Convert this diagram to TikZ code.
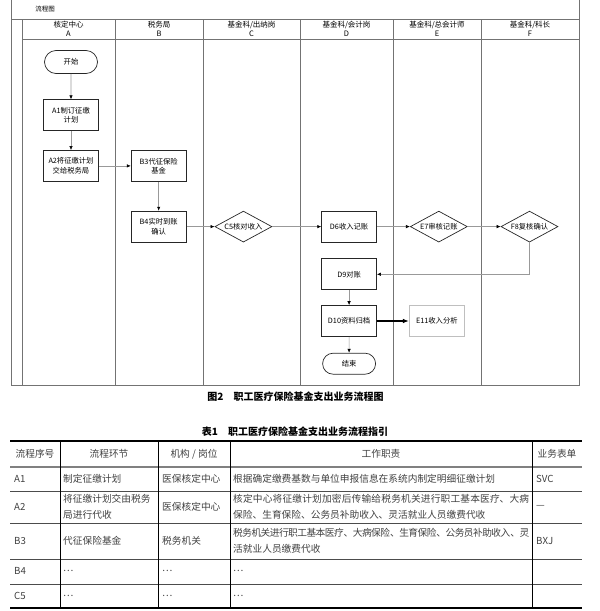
\documentclass[tikz,border=0pt]{standalone}
\usepackage{fontspec}
\setmainfont{Noto Sans CJK SC}
\XeTeXlinebreaklocale "zh"
\XeTeXlinebreakskip=0pt plus 2pt minus 0.6pt
\usepackage{tikz}
\tikzset{>=latex}
\usetikzlibrary{
    positioning, % relative placement of nodes
    arrows.meta, % arrow tips
    shapes.geometric, % diamonds
    shapes.misc % rounded rectangles for start/end
}

\begin{document}
\begin{tikzpicture}[
    x=1pt, y=-1pt,
    node distance=20pt and 30pt,
    frame/.style={
        draw=black!55,
        line width=0.8pt
    },
    lanehead/.style={
        align=center,
        inner sep=0pt,
        font=\fontsize{7.5}{9}\selectfont
    },
    terminal/.style={
        draw=black!85,
        rounded rectangle,
        minimum width=55pt,
        minimum height=23pt,
        inner sep=1pt,
        line width=0.7pt,
        font=\fontsize{7.3}{9}\selectfont
    },
    stepbox/.style={
        draw=black!85,
        align=center,
        minimum width=55pt,
        minimum height=31pt,
        inner sep=2pt,
        line width=0.7pt,
        font=\fontsize{7.3}{9.5}\selectfont
    },
    check/.style={
        draw=black!85,
        diamond,
        aspect=2,
        minimum width=57pt,
        minimum height=31pt,
        inner sep=0pt,
        line width=0.7pt,
        font=\fontsize{7.3}{9}\selectfont
    },
    arrow/.style={
        -{Latex[length=4pt,width=3.5pt,color=black]},
        draw=black!40,
        line width=0.6pt
    },
    boldarrow/.style={
        -{Latex[length=6pt,width=4.5pt]},
        draw=black,
        line width=1.1pt
    },
    caption/.style={
        inner sep=0pt,
        font=\bfseries\fontsize{10}{12}\selectfont
    },
    cell/.style={
        anchor=west,
        align=left,
        inner sep=0pt,
        text=black!75,
        font=\fontsize{9.7}{15.5}\selectfont
    },
    duty/.style={
        cell,
        text width=296pt,
        align=justify
    },
    headcell/.style={
        inner sep=0pt,
        text=black!75,
        font=\fontsize{9.7}{12}\selectfont
    }
]
\useasboundingbox (0,0) rectangle (600,611);

% Frame of the flow chart
\draw[frame] (11,0) -- (11,385) -- (579,385) -- (579,0);
\draw[frame] (11,19) -- (579,19);
\draw[frame] (22,19) -- (22,385);
\draw[frame] (22,39) -- (579,39);
\node[inner sep=0pt, font=\fontsize{6.5}{8}\selectfont] (title) at (45,9) {流程图};

% Lanes
\foreach \x in {115,203,300,393,481}
    \draw[frame] (\x,19) -- (\x,385);
\foreach \cx/\name/\id in {68.5/{核定中心}/A, 159/{税务局}/B, 251.5/{基金科/出纳岗}/C,
    346.5/{基金科/会计岗}/D, 437/{基金科/总会计师}/E, 530/{基金科/科长}/F}
    \node[lanehead] (lane\id) at (\cx,28.5) {\name\\\id};

% Steps
\node[terminal] (start) at (71,62) {开始};

\node[stepbox, below=25.5pt of start] (A1)
{A1制订征缴\\计划};

\node[stepbox, below=19pt of A1] (A2)
{A2将征缴计划\\交给税务局};

\node[stepbox, right=32pt of A2] (B3)
{B3代征保险\\基金};

\node[stepbox, below=29pt of B3] (B4)
{B4实时到账\\确认};

\node[check, right=28pt of B4] (C5)
{C5核对收入};

\node[stepbox, right=49pt of C5] (D6)
{D6收入记账};

\node[check, right=33pt of D6] (E7)
{E7审核记账};

\node[check, right=33pt of E7] (F8)
{F8复核确认};

\node[stepbox, below=16pt of D6] (D9)
{D9对账};

\node[stepbox, below=15pt of D9] (D10)
{D10资料归档};

\node[stepbox, draw=black!25, right=32pt of D10] (E11)
{E11收入分析};

\node[terminal, minimum height=21pt, below=16pt of D10] (end)
{结束};

% Connectors
\draw[arrow] (start) -- (A1);
\draw[arrow] (A1) -- (A2);
\draw[arrow] (A2) -- (B3);
\draw[arrow] (B3) -- (B4);
\draw[arrow] (B4) -- (C5);
\draw[arrow] (C5) -- (D6);
\draw[arrow] (D6) -- (E7);
\draw[arrow] (E7) -- (F8);
\draw[arrow] (F8.south) |- (D9.east);
\draw[arrow] (D9) -- (D10);
\draw[boldarrow] (D10) -- (E11);
\draw[arrow] (D10) -- (end);

% Captions
\node[caption] (figcap) at (295.5,397) {图2\quad 职工医疗保险基金支出业务流程图};
\node[caption] (tabcap) at (295,432) {表1\quad 职工医疗保险基金支出业务流程指引};

% Table rules
\draw[line width=1.3pt] (10,441) -- (582,441);
\draw[black!50, line width=1.6pt] (10,467) -- (582,467);
\foreach \y in {491,523,559,584}
    \draw[black!70, line width=0.8pt] (10,\y) -- (582,\y);
\draw[line width=1.3pt] (10,608) -- (582,608);
\foreach \x in {60,158,230,532}
    \draw[line width=0.9pt] (\x,441) -- (\x,608);

% Table header
\node[headcell] (hno) at (35,454) {流程序号};
\node[headcell] (hstep) at (109,454) {流程环节};
\node[headcell] (hpost) at (194,454) {机构 / 岗位};
\node[headcell] (hduty) at (381,454) {工作职责};
\node[headcell] (hform) at (557,454) {业务表单};

% Row A1
\node[cell] (noA1) at (14,479) {A1};
\node[cell] (stepA1) at (63,479) {制定征缴计划};
\node[cell] (postA1) at (162,479) {医保核定中心};
\node[duty] (dutyA1) at (233,479) {根据确定缴费基数与单位申报信息在系统内制定明细征缴计划};
\node[cell] (formA1) at (536,479) {SVC};

% Row A2
\node[cell] (noA2) at (14,507) {A2};
\node[cell] (stepA2) at (63,507) {将征缴计划交由税务\\局进行代收};
\node[cell] (postA2) at (162,507) {医保核定中心};
\node[duty] (dutyA2) at (233,507)
{核定中心将征缴计划加密后传输给税务机关进行职工基本医疗、大病\linebreak 保险、生育保险、公务员补助收入、灵活就业人员缴费代收};
\node[cell] (formA2) at (536,507) {—};

% Row B3
\node[cell] (noB3) at (14,541) {B3};
\node[cell] (stepB3) at (63,541) {代征保险基金};
\node[cell] (postB3) at (162,541) {税务机关};
\node[duty] (dutyB3) at (233,541)
{税务机关进行职工基本医疗、大病保险、生育保险、公务员补助收入、灵\linebreak 活就业人员缴费代收};
\node[cell] (formB3) at (536,541) {BXJ};

% Rows B4 and C5
\foreach \id/\y in {B4/571, C5/596} {
    \node[cell] (no\id) at (14,\y) {\id};
    \node[cell] (step\id) at (63,\y) {…};
    \node[cell] (post\id) at (162,\y) {…};
    \node[cell] (duty\id) at (233,\y) {…};
}

\end{tikzpicture}
\end{document}
